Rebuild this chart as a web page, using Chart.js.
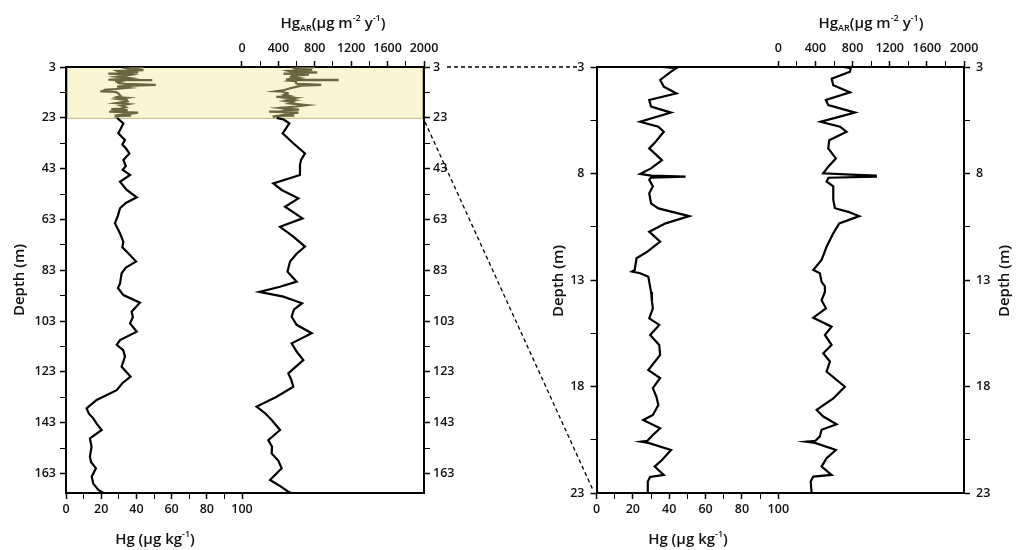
<!DOCTYPE html>
<html lang="en">
<head>
<meta charset="UTF-8">
<title>Hg depth profiles</title>
<style>
  body { margin: 0; background: #fff; }
  #wrap { position: relative; width: 1016px; height: 550px; overflow: hidden; }
  .box { position: absolute; top: 0; }
  .ttl { position: absolute; transform: translate(-50%, -50%); font: 600 15px 'Open Sans', sans-serif; color: #111; white-space: nowrap; line-height: 1; }
  .ttl sub, .ttl sup { font-size: 9px; line-height: 1; position: relative; vertical-align: baseline; }
  .ttl sub { top: 3px; }
  .ttl sup { top: -7px; }
  .rot { transform: translate(-50%, -50%) rotate(-90deg); }
</style>
</head>
<body>
<div id="wrap">
  <div class="box" style="left:0"><canvas id="deepChart" width="520" height="550"></canvas></div>
  <div class="box" style="left:520px"><canvas id="zoomChart" width="496" height="550"></canvas></div>
  <svg width="1016" height="550" style="position:absolute;left:0;top:0;pointer-events:none">
    <line x1="447" y1="67" x2="578" y2="67" stroke="#000" stroke-width="1.3" stroke-dasharray="4 3"/>
    <line x1="425" y1="122" x2="593" y2="490" stroke="#000" stroke-width="1.3" stroke-dasharray="4 3"/>
  </svg>
  <div class="ttl" style="left:333px;top:22px">Hg<sub>AR</sub>(µg m<sup>-2</sup> y<sup>-1</sup>)</div>
  <div class="ttl" style="left:871px;top:22px">Hg<sub>AR</sub>(µg m<sup>-2</sup> y<sup>-1</sup>)</div>
  <div class="ttl" style="left:155px;top:538px">Hg (µg kg<sup>-1</sup>)</div>
  <div class="ttl" style="left:688px;top:538px">Hg (µg kg<sup>-1</sup>)</div>
  <div class="ttl rot" style="left:18px;top:280px">Depth (m)</div>
  <div class="ttl rot" style="left:557px;top:281px">Depth (m)</div>
  <div class="ttl rot" style="left:1003px;top:281px">Depth (m)</div>
</div>

<script src="https://cdn.jsdelivr.net/npm/chart.js"></script>
<script>
// ---- data: upper core 3-23 m (zoomed panel, also shown olive in left panel)
const hgTopDepth = [3.0, 3.05, 3.22, 3.61, 3.92, 4.24, 4.55, 4.86, 5.14, 5.57, 5.8, 6.04, 6.56, 6.82, 7.37, 7.76,
  8.02, 8.1, 8.15, 8.19, 8.3, 8.6, 8.93, 9.4, 9.64, 10.0, 10.34, 10.73, 11.2, 11.67, 11.98, 12.53, 12.6, 12.68,
  12.85, 13.09, 13.56, 14.0, 14.33, 14.8, 15.11, 15.58, 16.05, 16.52, 17.23, 17.6, 18.08, 18.5, 18.87, 19.34,
  19.57, 19.96, 20.28, 20.55, 20.59, 20.65, 20.98, 21.45, 21.76, 22.15, 22.25, 22.46, 23.0];
const hgTopValue = [36, 44, 41, 35, 37, 44, 29, 30, 41, 24, 34, 37, 32, 29, 36, 30,
  24, 30, 49, 30, 29, 31, 29, 30, 34, 51, 38, 29, 35, 28, 22, 21, 19.5, 24,
  28.5, 29, 30, 30.5, 31, 29, 34.5, 29.5, 34.5, 35, 28.5, 35, 31, 33, 34, 31,
  25.7, 35, 31, 28, 24.5, 28.5, 41, 36, 32, 37, 29.5, 28.2, 28.2];

const hgarTopDepth = [3.0, 3.05, 3.22, 3.55, 3.86, 4.19, 4.55, 4.79, 5.14, 5.41, 5.57, 5.8, 6.04, 6.44, 6.82, 7.29,
  7.68, 7.99, 8.05, 8.1, 8.15, 8.2, 8.38, 8.6, 9.24, 9.63, 9.8, 10.0, 10.34, 10.81, 11.44, 12.06, 12.53, 12.68,
  13.09, 13.3, 13.56, 13.95, 14.33, 14.77, 15.19, 15.58, 16.05, 16.44, 16.83, 17.3, 18.01, 18.56, 19.1, 19.41,
  19.77, 20.03, 20.34, 20.55, 20.59, 20.65, 20.98, 21.37, 21.76, 22.15, 22.23, 22.46, 23.0];
const hgarTopValue = [700, 780, 772, 575, 592, 772, 513, 538, 826, 592, 456, 664, 735, 549, 538, 620,
  538, 484, 780, 1050, 1050, 540, 520, 592, 592, 610, 753, 871, 656, 592, 520, 466, 377, 448,
  466, 502, 502, 466, 513, 377, 574, 502, 574, 484, 556, 520, 717, 592, 413, 484,
  628, 466, 448, 400, 298, 395, 620, 520, 466, 574, 377, 349, 359];

// ---- data: deep core 23-171 m (left panel, black)
const hgDeepDepth = [23.0, 25.2, 27.8, 29.1, 31.7, 33.5, 35, 37, 39.6, 42, 43.5, 45.5, 48.2, 51.4, 54.3, 56.5, 58.6,
  61.5, 64.5, 68.5, 71.8, 74, 76.3, 79.6, 82, 84.2, 88.2, 90, 92.8, 95.8, 99.3, 101.5, 103.9, 107.2, 110.5,
  112.4, 114.5, 117, 121, 124.9, 127.5, 130.2, 134.1, 137.4, 139.5, 141.3, 143.5, 145.9, 149.2, 152.5, 156.4,
  158.5, 161, 164.3, 167, 169.5, 170.7];
const hgDeepValue = [29, 32.6, 30.7, 29.7, 33.5, 32, 34, 36, 32.6, 34, 32.2, 36.4, 30.7, 34.5, 40.2, 34, 30.7,
  29.5, 27.8, 30.7, 32.6, 32, 35.4, 39.8, 34, 31.6, 30.7, 29.5, 32.6, 42, 37.3, 38, 36.4, 40.2, 30.7,
  28.8, 32.5, 33.5, 31.6, 36.7, 32, 28.8, 17.4, 11.7, 13, 15.5, 17.5, 20.3, 13.6, 14.5, 13.6,
  14.2, 17, 14.6, 15.5, 18.4, 21.2];

const hgarDeepDepth = [23.0, 23.6, 25.2, 29.1, 33, 37, 39.5, 41.6, 45.5, 48.8, 51.4, 54.7, 58, 62.6, 65.9, 69.8,
  73.7, 76.5, 79.6, 83.6, 87.5, 89.5, 91.5, 93.4, 96, 98.5, 101.3, 104.5, 107.8, 111.8, 115, 118.4, 123.6,
  126, 128.9, 132.8, 136.7, 139.5, 142, 145.9, 149.9, 152.5, 155.1, 158, 161, 165.6, 168, 170.2, 170.7];
const hgarDeepValue = [380, 454, 520, 447, 564, 692, 650, 637, 637, 344, 436, 619, 473, 665, 418, 564,
  692, 600, 528, 500, 601, 418, 190, 454, 660, 570, 546, 600, 766, 546, 600, 674, 509,
  540, 564, 381, 161, 260, 326, 418, 289, 330, 326, 400, 436, 308, 420, 509, 540];

// ---- axis ticks
const deepTicks = [3, 13, 23, 33, 43, 53, 63, 73, 83, 93, 103, 113, 123, 133, 143, 153, 163];
const deepLabels = [3, 23, 43, 63, 83, 103, 123, 143, 163];
const zoomTicks = [3, 5.5, 8, 10.5, 13, 15.5, 18, 20.5, 23];
const zoomLabels = [3, 8, 13, 18, 23];
const hgTicks = [0, 10, 20, 30, 40, 50, 60, 70, 80, 90, 100];
const hgLabels = [0, 20, 40, 60, 80, 100];
const hgarTicks = [0, 200, 400, 600, 800, 1000, 1200, 1400, 1600, 1800, 2000];
const hgarLabels = [0, 400, 800, 1200, 1600, 2000];

const OLIVE = '#6b6540';

Chart.defaults.font.family = "'Open Sans', sans-serif";
Chart.defaults.font.size = 12.5;
Chart.defaults.font.weight = '600';
Chart.defaults.color = '#111';

function pts(depths, vals) {
  return depths.map((d, i) => ({ x: vals[i], y: d }));
}

function line(data, color, xAxis, width) {
  return { data: data, xAxisID: xAxis, yAxisID: 'y', showLine: true, borderColor: color,
    borderWidth: width, pointRadius: 0, tension: 0, fill: false };
}

function axis(pos, min, max, ticks, labels, size, pad, extra) {
  return Object.assign({
    type: 'linear', position: pos, min: min, max: max,
    afterBuildTicks: s => { s.ticks = ticks.map(v => ({ value: v })); },
    afterFit: s => {
      if (pos === 'left' || pos === 'right') s.width = size; else s.height = size;
      s.paddingLeft = s.paddingRight = s.paddingTop = s.paddingBottom = 0;
    },
    ticks: { autoSkip: false, maxRotation: 0, padding: pad,
      callback: v => labels.includes(v) ? String(v) : '' },
    grid: { drawOnChartArea: false, drawTicks: true, tickLength: 6, tickColor: '#000',
      tickWidth: c => (c.tick && labels.includes(c.tick.value)) ? 1.5 : 1 },
    border: { display: true, color: '#000', width: 2 }
  }, extra || {});
}

const highlight = {
  id: 'highlight',
  beforeDraw(chart) {
    const a = chart.chartArea, y = chart.scales.y, c = chart.ctx;
    const t = y.getPixelForValue(3), b = y.getPixelForValue(23);
    c.save();
    c.fillStyle = '#faf5d3';
    c.fillRect(a.left, t, a.right - a.left, b - t);
    c.strokeStyle = '#bdb57a';
    c.lineWidth = 1;
    c.strokeRect(a.left + 1.5, t + 0.5, a.right - a.left - 3, b - t);
    c.restore();
  }
};

new Chart(document.getElementById('deepChart'), {
  type: 'scatter',
  data: {
    datasets: [
      line(pts(hgTopDepth, hgTopValue), OLIVE, 'x', 2.2),
      line(pts(hgarTopDepth, hgarTopValue), OLIVE, 'x2', 2.2),
      line(pts(hgDeepDepth, hgDeepValue), '#000', 'x', 2.2),
      line(pts(hgarDeepDepth, hgarDeepValue), '#000', 'x2', 2.2)
    ]
  },
  options: {
    responsive: false, animation: false,
    layout: { padding: 0 },
    plugins: { legend: { display: false }, tooltip: { enabled: false } },
    scales: {
      x: axis('bottom', 0, 203.4, hgTicks, hgLabels, 57, 3),
      x2: axis('top', -1934, 2000, hgarTicks, hgarLabels, 67, 5),
      y: axis('left', 3, 170.7, deepTicks, deepLabels, 66, 4, { reverse: true }),
      y2: axis('right', 3, 170.7, deepTicks, deepLabels, 96, 3, { reverse: true })
    }
  },
  plugins: [highlight]
});

new Chart(document.getElementById('zoomChart'), {
  type: 'scatter',
  data: {
    datasets: [
      line(pts(hgTopDepth, hgTopValue), '#000', 'x', 2.2),
      line(pts(hgarTopDepth, hgarTopValue), '#000', 'x2', 2.2)
    ]
  },
  options: {
    responsive: false, animation: false,
    layout: { padding: 0 },
    plugins: { legend: { display: false }, tooltip: { enabled: false } },
    scales: {
      x: axis('bottom', 0, 202.1, hgTicks, hgLabels, 57, 3),
      x2: axis('top', -1958, 2000, hgarTicks, hgarLabels, 67, 5),
      y: axis('left', 3, 23, zoomTicks, zoomLabels, 76.5, 6, { reverse: true }),
      y2: axis('right', 3, 23, zoomTicks, zoomLabels, 52, 6, { reverse: true })
    }
  }
});
</script>
</body>
</html>
